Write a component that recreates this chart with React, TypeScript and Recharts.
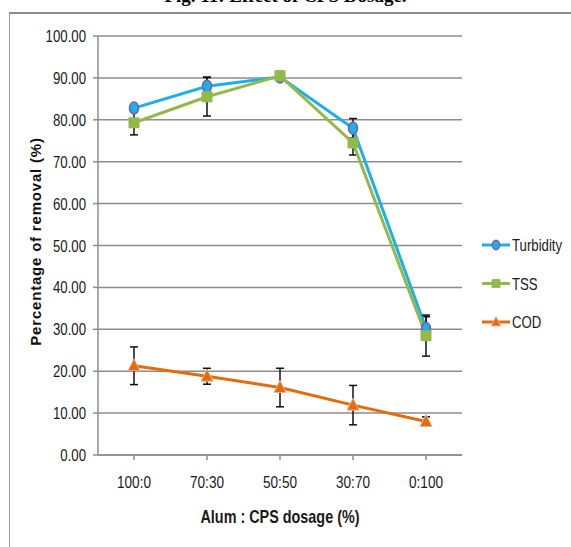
import React from 'react';
import { LineChart, Line, XAxis, YAxis, CartesianGrid, ErrorBar, Legend, Label } from 'recharts';

const dosages = ['100:0', '70:30', '50:50', '30:70', '0:100'];
const turbidity = [82.8, 88.0, 90.2, 78.0, 30.2];
const turbidityErr = [0.8, 2.2, 0.6, 2.3, 2.8];
const tss = [79.3, 85.5, 90.5, 74.5, 28.5];
const tssErr = [2.9, 4.6, 1.0, 2.9, 4.9];
const cod = [21.3, 18.8, 16.1, 11.9, 8.0];
const codErr = [4.5, 1.9, 4.6, 4.7, 1.1];
const yTicks = [0, 10, 20, 30, 40, 50, 60, 70, 80, 90, 100];

const data = dosages.map((d, i) => ({
  dosage: d,
  turbidity: turbidity[i],
  turbidityErr: turbidityErr[i],
  tss: tss[i],
  tssErr: tssErr[i],
  cod: cod[i],
  codErr: codErr[i],
}));

const BLUE = '#1CB0E8';
const GREEN = '#92B94A';
const ORANGE = '#E46C0A';
const GRID = '#8c8c8c';
const SANS = '"Liberation Sans", Arial, sans-serif';

// condensed text: Liberation Sans squeezed horizontally to look like Arial Narrow
const Narrow = ({ x, y, anchor = 'start', size = 15, bold = false, children }: any) => (
  <g transform={`translate(${x},${y}) scale(0.8,1)`}>
    <text
      x={0}
      y={0}
      textAnchor={anchor}
      dominantBaseline="central"
      fontFamily={SANS}
      fontSize={size}
      fontWeight={bold ? 'bold' : 'normal'}
      fill="#1a1a1a"
    >
      {children}
    </text>
  </g>
);

const Ellipse = ({ cx, cy, s = 1 }: any) => (
  <ellipse cx={cx} cy={cy} rx={4.5 * s} ry={6 * s} fill={BLUE} stroke="#7B5FA5" strokeWidth={1.5} />
);
const Square = ({ cx, cy, s = 1 }: any) => (
  <rect x={cx - 5.5 * s} y={cy - 5.5 * s} width={11 * s} height={11 * s} fill={GREEN} />
);
const Tri = ({ cx, cy, s = 1 }: any) => (
  <polygon
    points={`${cx},${cy - 7 * s} ${cx + 6 * s},${cy + 5 * s} ${cx - 6 * s},${cy + 5 * s}`}
    fill={ORANGE}
    stroke="#F0B0A0"
    strokeWidth={1}
  />
);

const series = [
  { key: 'turbidity', name: 'Turbidity', color: BLUE, Mark: Ellipse },
  { key: 'tss', name: 'TSS', color: GREEN, Mark: Square },
  { key: 'cod', name: 'COD', color: ORANGE, Mark: Tri },
];

const LegendBox = () => (
  <svg width={108} height={100} style={{ overflow: 'visible' }}>
    {series.map((s, i) => {
      const y = 10 + i * 38.5;
      const M = s.Mark;
      return (
        <g key={s.key}>
          <line x1={20} x2={48} y1={y} y2={y} stroke={s.color} strokeWidth={3} />
          <M cx={34} cy={y} s={0.8} />
          <Narrow x={50} y={y} size={16.5}>
            {s.name}
          </Narrow>
        </g>
      );
    })}
  </svg>
);

const XTick = ({ x, y, payload }: any) => (
  <Narrow x={x} y={y + 8} anchor="middle" size={17}>
    {payload.value}
  </Narrow>
);

const YTick = ({ x, y, payload }: any) => (
  <Narrow x={x} y={y} anchor="end" size={16.5}>
    {Number(payload.value).toFixed(2)}
  </Narrow>
);

export default function App() {
  return (
    <div style={{ position: 'absolute', left: 0, top: 0, width: 571, height: 547, overflow: 'hidden', background: '#fff' }}>
      <div
        style={{
          position: 'absolute',
          top: -15,
          left: 0,
          width: 571,
          textAlign: 'center',
          fontFamily: '"Liberation Serif", "Times New Roman", serif',
          fontWeight: 'bold',
          fontSize: 19,
        }}
      >
        Fig. 11: Effect of CPS Dosage.
      </div>
      <div
        style={{
          position: 'absolute',
          left: 9,
          top: 12,
          width: 600,
          height: 600,
          borderLeft: '1px solid #999',
          borderTop: '2px solid #8a8a8a',
        }}
      />
      <div style={{ position: 'absolute', left: 0, top: 0 }}>
        <LineChart width={571} height={547} data={data} margin={{ top: 36, right: 9, bottom: 22, left: 0 }}>
          <CartesianGrid vertical={false} stroke={GRID} strokeWidth={1.5} />
          <XAxis
            dataKey="dosage"
            height={70}
            padding={{ left: 36, right: 36 }}
            stroke={GRID}
            strokeWidth={1.5}
            tickSize={5}
            tickMargin={14}
            tick={<XTick />}
          >
            <Label
              content={(p: any) => {
                const vb = p.viewBox || {};
                const cx = (vb.x || 98) + (vb.width || 364) / 2;
                return (
                  <Narrow x={cx} y={516} anchor="middle" size={18} bold>
                    Alum : CPS dosage (%)
                  </Narrow>
                );
              }}
            />
          </XAxis>
          <YAxis
            width={98}
            domain={[0, 100]}
            ticks={yTicks}
            interval={0}
            stroke={GRID}
            strokeWidth={1.5}
            tickSize={5}
            tickMargin={7}
            tick={<YTick />}
          >
            <Label
              content={(p: any) => {
                const vb = p.viewBox || {};
                const cx = 35;
                const cy = (vb.y || 36) + (vb.height || 419) / 2 - 4;
                return (
                  <text
                    x={cx}
                    y={cy}
                    transform={`rotate(-90, ${cx}, ${cy})`}
                    textAnchor="middle"
                    dominantBaseline="central"
                    fontFamily={SANS}
                    fontWeight="bold"
                    fontSize={15}
                    letterSpacing={0.8}
                    fill="#111"
                  >
                    Percentage of removal (%)
                  </text>
                );
              }}
            />
          </YAxis>
          <Legend
            layout="vertical"
            align="right"
            verticalAlign="middle"
            content={() => <LegendBox />}
            wrapperStyle={{ width: 100, height: 100, top: 235, overflow: 'visible' }}
          />
          {series.map((s) => {
            const M = s.Mark;
            return (
              <Line
                key={s.key}
                dataKey={s.key}
                name={s.name}
                stroke={s.color}
                strokeWidth={3}
                isAnimationActive={false}
                dot={(p: any) => <M key={p.index} cx={p.cx} cy={p.cy} />}
                activeDot={false}
              >
                <ErrorBar dataKey={s.key + 'Err'} width={4} stroke="#111" strokeWidth={1.5} direction="y" />
              </Line>
            );
          })}
        </LineChart>
      </div>
    </div>
  );
}
